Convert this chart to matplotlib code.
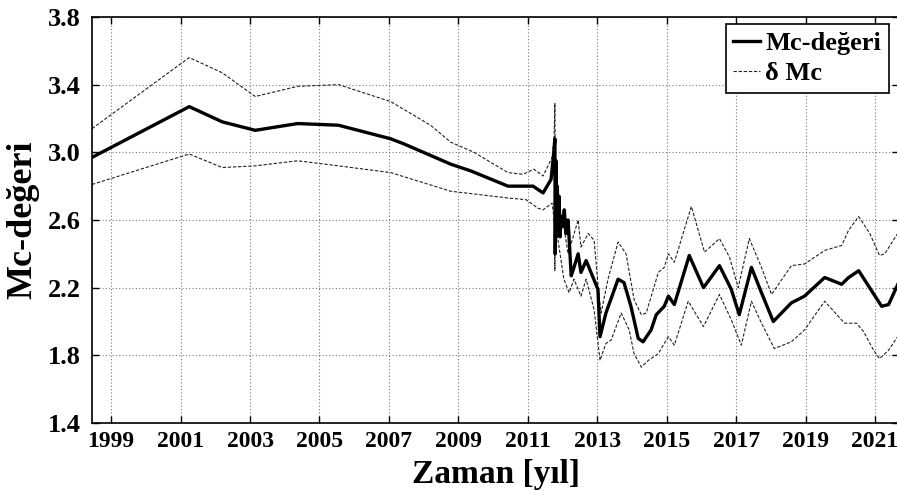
import matplotlib
matplotlib.use("Agg")
import matplotlib.pyplot as plt

plt.rcParams['font.family'] = ['Liberation Serif', 'DejaVu Serif']
plt.rcParams['font.weight'] = 'bold'

# Mc-değeri (kalın çizgi)
yil_mc = [1998.45, 2001.25, 2002.20, 2003.15, 2004.37, 2005.55, 2007.05, 2007.43,
          2008.78, 2009.36, 2010.43, 2011.15, 2011.44, 2011.67, 2011.75, 2011.78,
          2011.79, 2011.81, 2011.83, 2011.85, 2011.87, 2011.90, 2011.93, 2011.96,
          2012.01, 2012.05, 2012.10, 2012.16, 2012.25, 2012.33, 2012.45, 2012.53,
          2012.68, 2012.82, 2013.02, 2013.08, 2013.25, 2013.60, 2013.77, 2013.97,
          2014.18, 2014.32, 2014.55, 2014.70, 2014.93, 2015.05, 2015.22, 2015.65,
          2016.06, 2016.52, 2016.86, 2017.09, 2017.44, 2017.73, 2018.07, 2018.59,
          2018.97, 2019.55, 2020.04, 2020.24, 2020.53, 2021.19, 2021.39, 2021.68]
mc = [2.97, 3.27, 3.18, 3.13, 3.17, 3.16, 3.08, 3.05,
      2.93, 2.89, 2.80, 2.80, 2.76, 2.84, 3.00, 3.08,
      2.40, 2.95, 2.50, 2.80, 2.55, 2.74, 2.50, 2.62,
      2.56, 2.66, 2.52, 2.60, 2.27, 2.32, 2.40, 2.29,
      2.36, 2.29, 2.19, 1.91, 2.05, 2.25, 2.23, 2.09,
      1.90, 1.88, 1.95, 2.04, 2.09, 2.15, 2.10, 2.39,
      2.20, 2.33, 2.19, 2.04, 2.32, 2.17, 2.00, 2.11,
      2.15, 2.26, 2.22, 2.26, 2.30, 2.09, 2.10, 2.23]

# üst sınır (Mc + δMc)
yil_ust = [1998.45, 2001.25, 2002.20, 2003.15, 2004.37, 2005.55, 2007.05, 2008.20,
           2008.78, 2009.45, 2010.43, 2010.86, 2011.18, 2011.44, 2011.70, 2011.76,
           2011.78, 2011.80, 2011.87, 2012.01, 2012.16, 2012.45, 2012.53, 2012.74,
           2012.91, 2013.05, 2013.11, 2013.31, 2013.60, 2013.83, 2014.06, 2014.27,
           2014.41, 2014.76, 2014.93, 2015.05, 2015.22, 2015.71, 2016.09, 2016.52,
           2016.81, 2017.06, 2017.38, 2017.73, 2018.02, 2018.59, 2018.97, 2019.55,
           2020.04, 2020.24, 2020.53, 2020.85, 2021.13, 2021.28, 2021.68]
ust = [3.14, 3.56, 3.47, 3.33, 3.39, 3.40, 3.30, 3.16,
       3.06, 3.00, 2.88, 2.87, 2.90, 2.86, 2.97, 3.10,
       3.29, 2.70, 2.68, 2.60, 2.40, 2.60, 2.44, 2.52,
       2.48, 2.15, 2.05, 2.25, 2.47, 2.40, 2.13, 2.04,
       2.05, 2.29, 2.32, 2.40, 2.35, 2.68, 2.41, 2.49,
       2.38, 2.20, 2.49, 2.32, 2.16, 2.33, 2.34, 2.42,
       2.45, 2.54, 2.62, 2.52, 2.39, 2.40, 2.53]

# alt sınır (Mc - δMc)
yil_alt = [1998.45, 2001.25, 2002.20, 2003.15, 2004.37, 2005.55, 2007.05, 2008.78,
           2010.43, 2010.95, 2011.29, 2011.44, 2011.70, 2011.76, 2011.78, 2011.80,
           2011.87, 2012.04, 2012.19, 2012.33, 2012.53, 2012.68, 2012.91, 2013.08,
           2013.25, 2013.40, 2013.69, 2013.92, 2014.06, 2014.27, 2014.47, 2014.76,
           2014.93, 2015.05, 2015.22, 2015.62, 2016.06, 2016.52, 2016.86, 2017.15,
           2017.44, 2017.73, 2018.10, 2018.59, 2018.97, 2019.55, 2020.12, 2020.47,
           2020.67, 2020.96, 2021.13, 2021.39, 2021.68]
alt = [2.81, 2.99, 2.91, 2.92, 2.95, 2.92, 2.88, 2.77,
       2.73, 2.72, 2.67, 2.66, 2.70, 2.60, 2.30, 2.70,
       2.48, 2.25, 2.17, 2.25, 2.15, 2.25, 2.07, 1.77,
       1.87, 1.89, 2.05, 1.95, 1.81, 1.73, 1.77, 1.81,
       1.87, 1.91, 1.86, 2.12, 1.97, 2.16, 2.01, 1.86,
       2.12, 1.99, 1.84, 1.88, 1.95, 2.12, 1.99, 1.99,
       1.94, 1.83, 1.78, 1.83, 1.92]

x_ticks = list(range(1999, 2022, 2))
y_ticks = [1.4, 1.8, 2.2, 2.6, 3.0, 3.4, 3.8]

fig = plt.figure(figsize=(8.97, 4.99), dpi=100, facecolor='white')
ax = fig.add_axes([0.1026, 0.1523, 0.9, 0.8137])

ax.plot(yil_mc, mc, color='black', lw=2.4, label='Mc-değeri', zorder=3)
ax.plot(yil_ust, ust, color='#222222', lw=0.8, dashes=(3, 1.6), label='δ Mc', zorder=2)
ax.plot(yil_alt, alt, color='#222222', lw=0.8, dashes=(3, 1.6), zorder=2)

ax.set_xlim(1998.45, 2021.7)
ax.set_ylim(1.4, 3.8)
ax.set_xticks(x_ticks)
ax.set_yticks(y_ticks)
ax.set_yticklabels(['%.1f' % v for v in y_ticks])

ax.grid(True, color='#777777', linestyle=(0, (1, 2)), linewidth=0.8)
ax.tick_params(axis='x', direction='in', top=True, length=5, width=1, labelsize=17, pad=6)
ax.tick_params(axis='y', direction='in', right=True, length=5, width=1, labelsize=19, pad=8)
for s in ax.spines.values():
    s.set_linewidth(1.2)

ax.set_xlabel('Zaman [yıl]', fontsize=24, fontweight='bold', labelpad=5)
ax.set_ylabel('Mc-değeri', fontsize=26, fontweight='bold', labelpad=6)

leg = ax.legend(loc='upper right', bbox_to_anchor=(0.991, 0.952), bbox_transform=fig.transFigure,
                borderaxespad=0, fontsize=19, handlelength=1.0, handletextpad=0.2,
                labelspacing=0.25, borderpad=0.3, fancybox=False, framealpha=1)
leg.get_frame().set_edgecolor('black')
leg.get_frame().set_linewidth(1.2)

fig.savefig('out.png', dpi=100)
